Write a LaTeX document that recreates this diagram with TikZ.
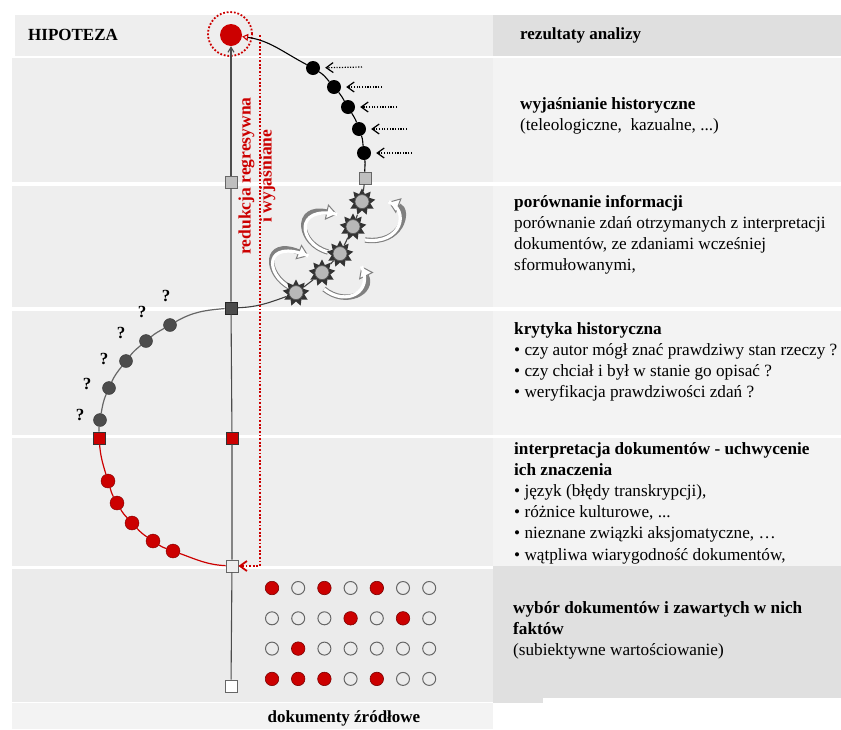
\documentclass[tikz,border=0pt]{standalone}
\usepackage{fontspec}
\setmainfont{Liberation Serif}
\usetikzlibrary{arrows.meta,shapes.geometric}
\definecolor{hred}{HTML}{CC0000}
\definecolor{bandL}{HTML}{EEEEEE}
\definecolor{bandR}{HTML}{F3F3F3}
\definecolor{headR}{HTML}{DFDFDF}
\definecolor{selL}{HTML}{EBEBEB}
\definecolor{selR}{HTML}{E0E0E0}

\tikzset{
  txt/.style={font=\fontsize{17.2}{21.2}\selectfont, align=left, inner sep=0pt, anchor=north west},
  sqr/.style={draw=black!60, minimum size=12pt, inner sep=0pt, line width=0.8pt},
  bdot/.style={circle, fill=black, minimum size=14pt, inner sep=0pt},
  gdot/.style={circle, fill=black!70, draw=black!80, minimum size=13pt, inner sep=0pt},
  rdot/.style={circle, fill=hred, draw=hred!60!black, minimum size=14pt, inner sep=0pt},
  dot0/.style={circle, draw=black!60, line width=1pt, minimum size=13pt, inner sep=0pt},
  dot1/.style={circle, draw=hred!60!black, fill=hred, line width=0.6pt, minimum size=13.5pt, inner sep=0pt},
  gear/.style={star, star points=9, star point ratio=1.6, fill=black!80, minimum size=27pt, inner sep=0pt,
    path picture={\filldraw[fill=black!28, draw=black!65, line width=0.7pt] (path picture bounding box.center) circle (7pt);}},
  hollow/.style={draw=white, line width=3.2pt, shorten >=8pt,
    preaction={draw=black!50, line width=5.4pt, -{Triangle[open, fill=white, length=11pt, width=16pt, line width=1pt]}}},
  ask/.style={font=\fontsize{17}{17}\selectfont\bfseries, inner sep=0pt},
  hint/.style={line width=1.2pt, dash pattern=on 1.2pt off 1.5pt, shorten >=5pt, -{Straight Barb[length=7pt, width=10pt]}}
}

\begin{document}
\begin{tikzpicture}[x=1pt,y=1pt]
  \useasboundingbox (0,0) rectangle (841,-729);
  % bands
  \fill[bandL] (15,-15) rectangle (493,-56);
  \fill[headR] (493,-15) rectangle (841,-56);
  \foreach \a/\b in {58/182,186/307,311/435,438/566}{
    \fill[bandL] (12,-\a) rectangle (493,-\b);
    \fill[bandR] (493,-\a) rectangle (841,-\b);
  }
  \fill[selL] (12,-569) rectangle (493,-702);
  \fill[selR] (493,-566) rectangle (841,-698);
  \fill[selR] (493,-698) rectangle (543,-703);
  \fill[bandR] (12,-703) rectangle (493,-729);

  % hypothesis
  \node[circle, draw=hred, line width=1.8pt, dash pattern=on 1.8pt off 1.8pt, minimum size=44pt, inner sep=0pt] (ring) at (230,-34) {};
  \node[circle, fill=hred, minimum size=22pt, inner sep=0pt] (hip) at (231,-35) {};

  % main line
  \node[sqr, fill=black!25] (m1) at (231,-182) {};
  \node[sqr, fill=black!70, draw=black!85] (m2) at (231,-308) {};
  \node[sqr, fill=hred, draw=black!80] (m3) at (232,-438) {};
  \node[sqr, fill=bandL] (m4) at (232,-566) {};
  \node[sqr, fill=white] (m5) at (231,-686) {};
  \draw[black!70, line width=1.1pt] (m5) -- (m4) -- (m3) -- (m2) -- (m1);
  \draw[black!70, line width=1.1pt, -{Straight Barb[length=5pt, width=6pt]}] (m1) -- (hip);

  % explanation curve
  \node[sqr, fill=black!25] (q1) at (365,-178) {};
  \node[bdot] (d1) at (313,-68) {};
  \node[bdot] (d2) at (334,-87) {};
  \node[bdot] (d3) at (348,-107) {};
  \node[bdot] (d4) at (359,-129) {};
  \node[bdot] (d5) at (364,-153) {};
  \draw[line width=1.1pt, -{Triangle[open, length=6pt, width=7pt, color=hred]}] (q1) to[out=92,in=-83] (d5)
    to[out=97,in=-70] (d4) to[out=110,in=-59] (d3) to[out=121,in=-49] (d2)
    to[out=131,in=-32] (d1) to[out=152,in=-8] (hip);
  \foreach \i/\x/\y in {1/362/67, 2/382/87, 3/397/107, 4/407/129, 5/412/153}{
    \coordinate (a\i) at (\x,-\y);
    \draw[hint] (a\i) -- (d\i);
  }

  % comparison
  \draw[hollow] (365,-240) .. controls (402,-245) and (410,-210) .. (381,-199);
  \draw[hollow] (328,-252) .. controls (298,-244) and (294,-205) .. (345,-216);
  \draw[hollow] (324,-289) .. controls (346,-307) and (374,-292) .. (358,-259);
  \draw[hollow] (291,-288) .. controls (264,-274) and (264,-238) .. (316,-259);
  \node[gear] (s1) at (362,-202) {};
  \node[gear] (s2) at (353,-227) {};
  \node[gear] (s3) at (340,-254) {};
  \node[gear] (s4) at (322,-273) {};
  \node[gear] (s5) at (296,-293) {};
  \draw[black!75, line width=1.1pt] (q1) -- (s1) -- (s2) -- (s3) -- (s4) -- (s5) to[out=200,in=2] (m2);

  % criticism
  \node[gdot] (g1) at (170,-325) {};
  \node[gdot] (g2) at (146,-341) {};
  \node[gdot] (g3) at (126,-361) {};
  \node[gdot] (g4) at (109,-388) {};
  \node[gdot] (g5) at (100,-420) {};
  \node[sqr, fill=hred, draw=black!80] (rq) at (99,-438) {};
  \draw[black!60, line width=1.2pt] (m2) to[out=185,in=30] (g1) to[out=210,in=40] (g2)
    to[out=220,in=52] (g3) to[out=232,in=66] (g4) to[out=246,in=80] (g5) to[out=262,in=90] (rq);
  \foreach \x/\y [count=\k] in {166/296, 142/312, 121/333, 104/359, 87/384, 80/415}
    \node[ask] (q-\k) at (\x,-\y) {?};

  % interpretation
  \node[rdot] (r1) at (108,-481) {};
  \node[rdot] (r2) at (117,-503) {};
  \node[rdot] (r3) at (132,-523) {};
  \node[rdot] (r4) at (153,-541) {};
  \node[rdot] (r5) at (173,-551) {};
  \draw[hred, line width=1.2pt] (rq) to[out=-85,in=107] (r1) to[out=-73,in=120] (r2)
    to[out=-60,in=133] (r3) to[out=-47,in=146] (r4) to[out=-34,in=160] (r5) to[out=-20,in=177] (m4);

  % regressive reduction
  \coordinate (redtop) at (260,-35);
  \draw[hred, line width=1.8pt, dash pattern=on 1.8pt off 1.8pt, -{Straight Barb[length=7pt, width=10pt]}] (redtop) |- (m4);
  \node[rotate=90, text=hred, font=\fontsize{17.5}{21}\selectfont\bfseries, align=center] (reduk) at (257,-176)
    {redukcja regresywna\\i wyjaśniane};

  % source facts
  \foreach \pat [count=\i] in {{1,0,1,0,1,0,0},{0,0,0,1,0,1,0},{0,1,0,0,0,0,0},{1,1,1,0,1,0,0}}
    \foreach \v [count=\j] in \pat
      \node[dot\v] (c-\i-\j) at ({272+26.2*(\j-1)},{-588-30.3*(\i-1)}) {};

  % labels
  \node[txt, anchor=west, font=\fontsize{17}{21}\selectfont\bfseries] (hipo) at (28,-35) {HIPOTEZA};
  \node[txt, anchor=west, font=\fontsize{17}{21}\selectfont\bfseries] (rez) at (520,-35) {rezultaty analizy};
  \node[txt] (hist) at (520,-97) {\textbf{wyjaśnianie historyczne}\\(teleologiczne,~ kazualne, ...)};
  \node[txt] (comp) at (514,-195) {\textbf{porównanie informacji}\\porównanie zdań otrzymanych z interpretacji\\dokumentów, ze zdaniami wcześniej\\sformułowanymi,};
  \node[txt] (crit) at (514,-322) {\textbf{krytyka historyczna}\\• czy autor mógł znać prawdziwy stan rzeczy ?\\• czy chciał i był w stanie go opisać ?\\• weryfikacja prawdziwości zdań ?};
  \node[txt] (interp) at (514,-442) {\textbf{interpretacja dokumentów - uchwycenie}\\\textbf{ich znaczenia}\\• język (błędy transkrypcji),\\• różnice kulturowe, ...\\• nieznane związki aksjomatyczne, …\\• wątpliwa wiarygodność dokumentów,};
  \node[txt] (wyb) at (513,-601) {\textbf{wybór dokumentów i zawartych w nich}\\\textbf{faktów}\\(subiektywne wartościowanie)};
  \node[font=\fontsize{17}{21}\selectfont\bfseries, inner sep=0pt] (zrod) at (344,-718) {dokumenty źródłowe};
\end{tikzpicture}
\end{document}
